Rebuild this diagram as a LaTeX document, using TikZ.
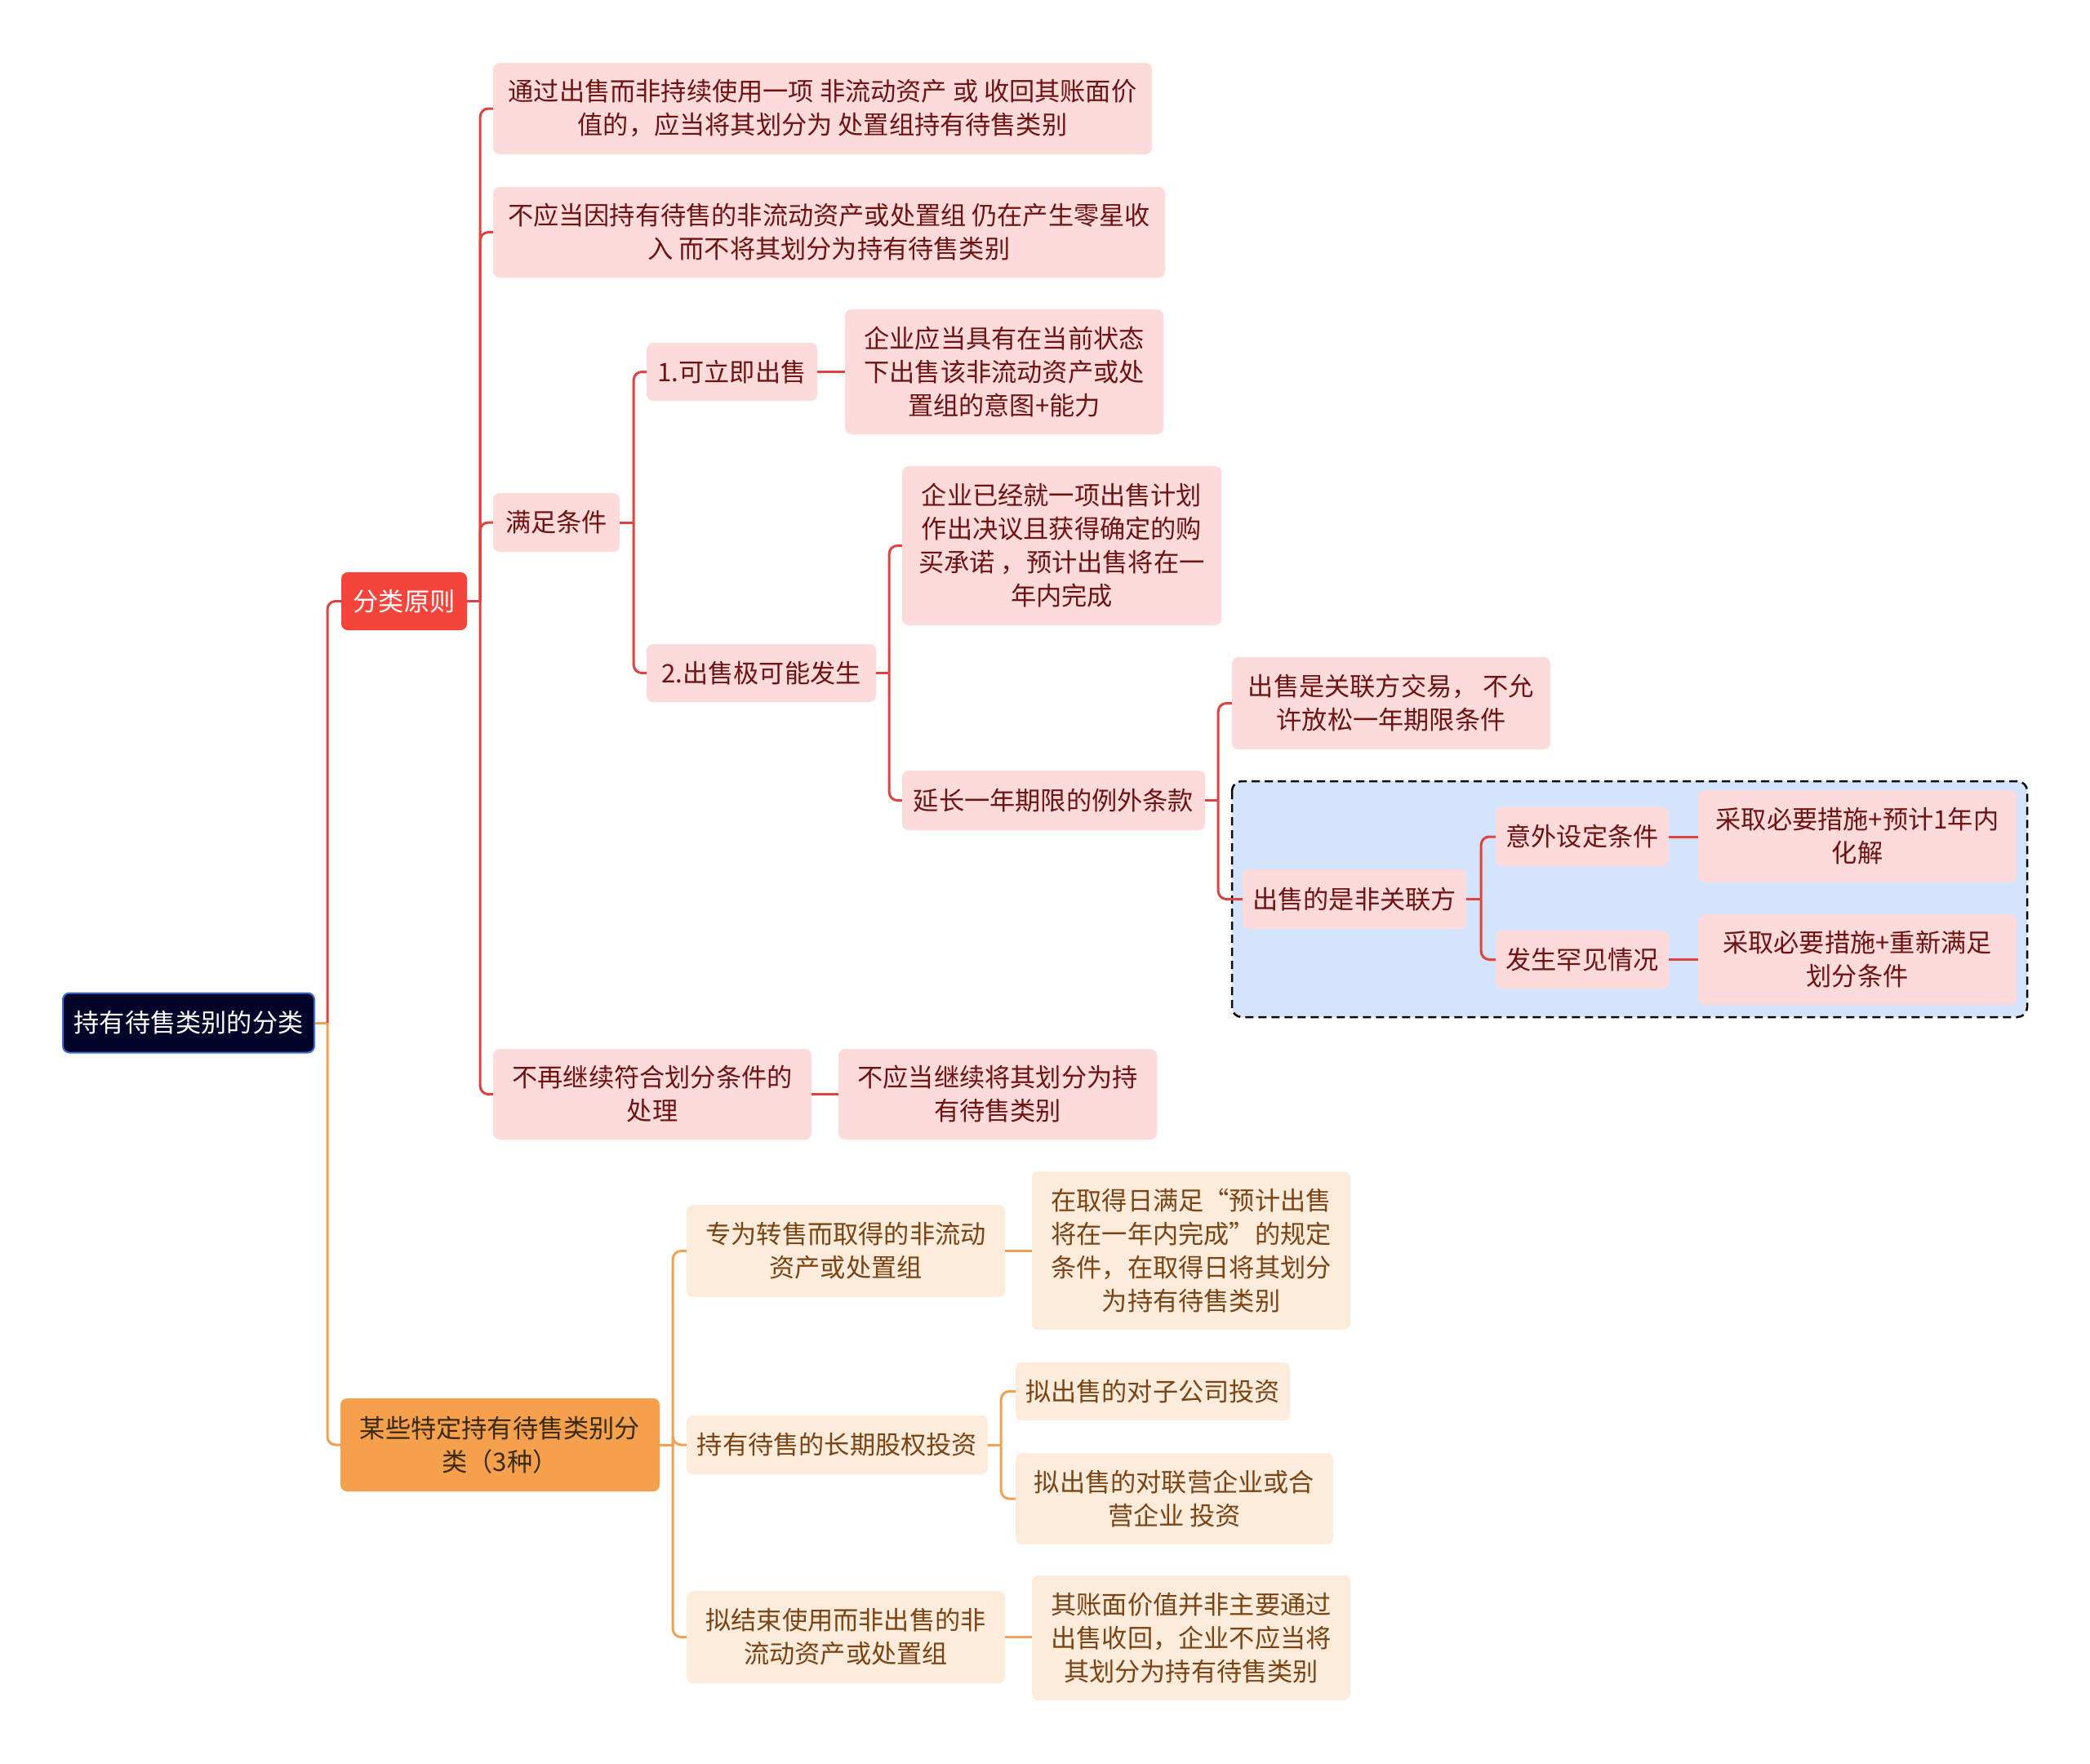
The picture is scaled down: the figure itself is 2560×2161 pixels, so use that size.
\documentclass[tikz,border=0pt]{standalone}
\usepackage{fontspec}
\setmainfont{Noto Sans CJK SC}
\definecolor{rootfill}{HTML}{04042A}
\definecolor{rootedge}{HTML}{3D6FD6}
\definecolor{headred}{HTML}{F5443C}
\definecolor{headorange}{HTML}{F5A04C}
\definecolor{headtext}{HTML}{3A2A14}
\definecolor{pinkfill}{HTML}{FDDBDB}
\definecolor{pinktext}{HTML}{6E1212}
\definecolor{peachfill}{HTML}{FDEBDC}
\definecolor{peachtext}{HTML}{7A4414}
\definecolor{linered}{HTML}{E0433D}
\definecolor{lineorange}{HTML}{EFA352}
\definecolor{groupfill}{HTML}{D5E4FC}
\begin{document}
\begin{tikzpicture}[x=1pt,y=-1pt,
    every node/.style={font=\fontsize{31.2}{41}\selectfont, align=center, inner sep=0pt, rounded corners=8},
    rootbox/.style={fill=rootfill, draw=rootedge, line width=2, text=white},
    redhead/.style={fill=headred, text=white},
    orangehead/.style={fill=headorange, text=headtext},
    pinkbox/.style={fill=pinkfill, text=pinktext},
    peachbox/.style={fill=peachfill, text=peachtext},
    redline/.style={draw=linered, line width=3},
    orangeline/.style={draw=lineorange, line width=3},
    elbow/.style={rounded corners=10}]
    \useasboundingbox [fill=white] (0,0) rectangle (2560,2161);
    % group frame
    \draw [fill=groupfill, dashed, dash pattern=on 10 off 6, line width=2.5, rounded corners=12] (1509,957) rectangle (2483,1246);
    % nodes
    \node [rootbox, minimum width=308, minimum height=73] (root) at (231,1253) {持有待售类别的分类};
    \node [redhead, minimum width=154, minimum height=71] (fenlei) at (495,736.5) {分类原则};
    \node [orangehead, minimum width=391, minimum height=114] (teding) at (612.5,1770) {某些特定持有待售类别分\\类（3种）};
    \node [pinkbox, minimum width=807, minimum height=112] (tongguo) at (1007.5,133) {通过出售而非持续使用一项 非流动资产 或 收回其账面价\\值的，应当将其划分为 处置组持有待售类别};
    \node [pinkbox, minimum width=823, minimum height=111] (buying) at (1015.5,284.5) {不应当因持有待售的非流动资产或处置组 仍在产生零星收\\入 而不将其划分为持有待售类别};
    \node [pinkbox, minimum width=155, minimum height=72] (manzu) at (681.5,640) {满足条件};
    \node [pinkbox, minimum width=390, minimum height=111] (buzai) at (799,1340.5) {不再继续符合划分条件的\\处理};
    \node [pinkbox, minimum width=209, minimum height=71] (liji) at (896.5,455.5) {1.可立即出售};
    \node [pinkbox, minimum width=390, minimum height=153] (yitu) at (1230,455.5) {企业应当具有在当前状态\\下出售该非流动资产或处\\置组的意图+能力};
    \node [pinkbox, minimum width=281, minimum height=71] (jikeneng) at (932.5,824.5) {2.出售极可能发生};
    \node [pinkbox, minimum width=391, minimum height=195] (jueyi) at (1300.5,668.5) {企业已经就一项出售计划\\作出决议且获得确定的购\\买承诺 ，预计出售将在一\\年内完成};
    \node [pinkbox, minimum width=371, minimum height=73] (yanchang) at (1290.5,980.5) {延长一年期限的例外条款};
    \node [pinkbox, minimum width=390, minimum height=113] (guanlian) at (1704,861.5) {出售是关联方交易， 不允\\许放松一年期限条件};
    \node [pinkbox, minimum width=274, minimum height=73] (feiguanlian) at (1659,1101.5) {出售的是非关联方};
    \node [pinkbox, minimum width=212, minimum height=72] (yiwai) at (1938,1025) {意外设定条件};
    \node [pinkbox, minimum width=390, minimum height=113] (huajie) at (2275,1024.5) {采取必要措施+预计1年内\\化解};
    \node [pinkbox, minimum width=212, minimum height=71] (hanjian) at (1938,1175.5) {发生罕见情况};
    \node [pinkbox, minimum width=390, minimum height=111] (chongxin) at (2275,1175.5) {采取必要措施+重新满足\\划分条件};
    \node [pinkbox, minimum width=390, minimum height=111] (bujixu) at (1222,1340.5) {不应当继续将其划分为持\\有待售类别};
    \node [peachbox, minimum width=390, minimum height=113] (zhuanshou) at (1036,1532.5) {专为转售而取得的非流动\\资产或处置组};
    \node [peachbox, minimum width=390, minimum height=194] (qude) at (1459,1532) {在取得日满足“预计出售\\将在一年内完成”的规定\\条件，在取得日将其划分\\为持有待售类别};
    \node [peachbox, minimum width=369, minimum height=72] (changqi) at (1025.5,1770) {持有待售的长期股权投资};
    \node [peachbox, minimum width=336, minimum height=71] (zigongsi) at (1412,1704.5) {拟出售的对子公司投资};
    \node [peachbox, minimum width=389, minimum height=112] (lianying) at (1438.5,1836) {拟出售的对联营企业或合\\营企业 投资};
    \node [peachbox, minimum width=390, minimum height=113] (jieshu) at (1036,2005.5) {拟结束使用而非出售的非\\流动资产或处置组};
    \node [peachbox, minimum width=390, minimum height=153] (zhangmian) at (1459,2006.5) {其账面价值并非主要通过\\出售收回，企业不应当将\\其划分为持有待售类别};
    % connectors
    \draw [orangeline] (root.east) -- ++(15,0) coordinate (rootbar);
    \draw [redline, elbow] (rootbar) |- (fenlei.west);
    \draw [orangeline, elbow] (rootbar) |- (teding.west);
    \draw [redline] (fenlei.east) -- ++(16,0) coordinate (fenleibar);
    \foreach \c in {tongguo,buying,manzu,buzai}
        \draw [redline, elbow] (fenleibar) |- (\c.west);
    \draw [redline] (manzu.east) -- ++(17,0) coordinate (manzubar);
    \foreach \c in {liji,jikeneng}
        \draw [redline, elbow] (manzubar) |- (\c.west);
    \draw [redline] (liji.east) -- (liji.east -| yitu.west);
    \draw [redline] (jikeneng.east) -- ++(16,0) coordinate (jikenengbar);
    \foreach \c in {jueyi,yanchang}
        \draw [redline, elbow] (jikenengbar) |- (\c.west);
    \draw [redline] (yanchang.east) -- ++(16,0) coordinate (yanchangbar);
    \foreach \c in {guanlian,feiguanlian}
        \draw [redline, elbow] (yanchangbar) |- (\c.west);
    \draw [redline] (feiguanlian.east) -- ++(18,0) coordinate (feiguanlianbar);
    \foreach \c in {yiwai,hanjian}
        \draw [redline, elbow] (feiguanlianbar) |- (\c.west);
    \draw [redline] (yiwai.east) -- (yiwai.east -| huajie.west);
    \draw [redline] (hanjian.east) -- (hanjian.east -| chongxin.west);
    \draw [redline] (buzai.east) -- (buzai.east -| bujixu.west);
    \draw [orangeline] (teding.east) -- ++(16,0) coordinate (tedingbar);
    \foreach \c in {zhuanshou,changqi,jieshu}
        \draw [orangeline, elbow] (tedingbar) |- (\c.west);
    \draw [orangeline] (zhuanshou.east) -- (zhuanshou.east -| qude.west);
    \draw [orangeline] (changqi.east) -- ++(16,0) coordinate (changqibar);
    \foreach \c in {zigongsi,lianying}
        \draw [orangeline, elbow] (changqibar) |- (\c.west);
    \draw [orangeline] (jieshu.east) -- (jieshu.east -| zhangmian.west);
\end{tikzpicture}
\end{document}
